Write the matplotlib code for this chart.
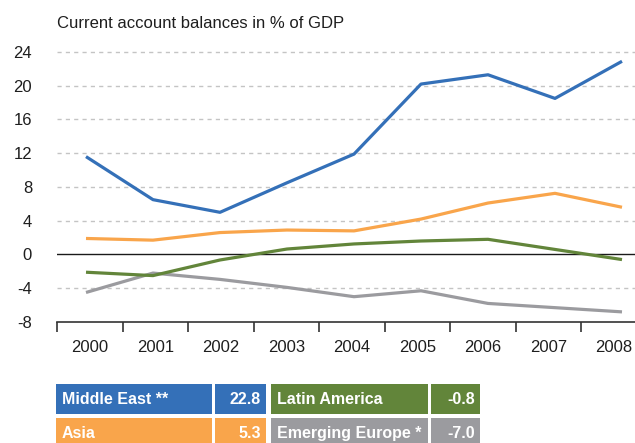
import numpy as np
import matplotlib
matplotlib.use("Agg")
import matplotlib.pyplot as plt
from matplotlib.patches import Rectangle

############################################
# DATA
############################################
years = ["2000", "2001", "2002", "2003", "2004", "2005", "2006", "2007", "2008"]

middle_east = [11.6, 6.5, 5.0, 8.5, 11.9, 20.2, 21.3, 18.5, 22.9]
asia = [1.9, 1.7, 2.6, 2.9, 2.8, 4.2, 6.1, 7.25, 5.6]
latin_america = [-2.1, -2.5, -0.65, 0.65, 1.25, 1.6, 1.8, 0.6, -0.6]
emerging_europe = [-4.5, -2.2, -2.95, -3.9, -5.0, -4.3, -5.8, -6.3, -6.8]

legend_names = ["Middle East **", "Asia", "Latin America", "Emerging Europe *"]
legend_values = ["22.8", "5.3", "-0.8", "-7.0"]

y_ticks = [-8, -4, 0, 4, 8, 12, 16, 20, 24]

BLUE = "#3470b8"
ORANGE = "#f9a54b"
GREEN = "#62853a"
GRAY = "#9b9b9f"

############################################
# FIGURE
############################################
W, H = 635, 443
fig = plt.figure(figsize=(W / 100, H / 100), dpi=100)
plt.rcParams["font.family"] = ["Liberation Sans", "DejaVu Sans"]

# axes in pixel geometry
ax_l, ax_r = 57, 635
ax_top, ax_bot = 52, 322
ax = fig.add_axes([ax_l / W, 1 - ax_bot / H, (ax_r - ax_l) / W, (ax_bot - ax_top) / H])

# data x: 2000 at px 86, 67 px per year; tick edges every 65.5 px from the left spine
px_per_year = 67.0
x0_px = 86.0
xlim_left = (ax_l - x0_px) / px_per_year
xlim_right = (ax_r - x0_px) / px_per_year
edges = [(ax_l + k * 65.5 - x0_px) / px_per_year for k in range(10)]
centers = [(edges[k] + edges[k + 1]) / 2 for k in range(9)]

x = np.arange(len(years))

for yv in y_ticks:
    if yv in (-8, 0):
        continue
    ax.axhline(yv, color="#c4c4c4", lw=1.0, ls=(0, (3, 3)), zorder=1, clip_on=False)
ax.axhline(0, color="#1a1a1a", lw=1.0, zorder=2)

ax.plot(x, emerging_europe, color=GRAY, lw=2.3, zorder=3, solid_capstyle="butt")
ax.plot(x, latin_america, color=GREEN, lw=2.3, zorder=4, solid_capstyle="butt")
ax.plot(x, asia, color=ORANGE, lw=2.3, zorder=5, solid_capstyle="butt")
ax.plot(x, middle_east, color=BLUE, lw=2.3, zorder=6, solid_capstyle="butt")

ax.set_xlim(xlim_left, xlim_right)
ax.set_ylim(-8, 24)

for s in ["left", "right", "top"]:
    ax.spines[s].set_visible(False)
ax.spines["bottom"].set_color("#333333")
ax.spines["bottom"].set_linewidth(1.2)

ax.set_yticks(y_ticks)
ax.set_yticklabels([str(v) for v in y_ticks], fontsize=12, color="#1e1e1e")
ax.tick_params(axis="y", length=0, pad=18)

ax.set_xticks([e for e in edges if e <= xlim_right])
ax.set_xticklabels([])
ax.tick_params(axis="x", which="major", length=7, width=1.2, color="#333333", direction="out")
ax.set_xticks(centers, minor=True)
ax.set_xticklabels(years, minor=True, fontsize=12, color="#1e1e1e")
ax.tick_params(axis="x", which="minor", length=0, pad=13)

fig.text(57 / W, 1 - 23 / H, "Current account balances in % of GDP",
         fontsize=12, color="#1e1e1e", va="center", ha="left")

############################################
# LEGEND BOXES
############################################
colors = [BLUE, ORANGE, GREEN, GRAY]
name_boxes = [(56, 212), (56, 212), (271, 428), (271, 428)]
value_boxes = [(215, 266), (215, 266), (431, 480), (431, 480)]
rows = [(384, 414), (418, 448), (384, 414), (418, 448)]

for i in range(4):
    y1, y2 = rows[i]
    for (bx1, bx2) in (name_boxes[i], value_boxes[i]):
        fig.patches.append(Rectangle((bx1 / W, 1 - y2 / H), (bx2 - bx1) / W, (y2 - y1) / H,
                                     transform=fig.transFigure, facecolor=colors[i],
                                     edgecolor="none"))
    yc = 1 - (y1 + 15.5) / H
    fig.text((name_boxes[i][0] + 6) / W, yc, legend_names[i], color="white",
             fontsize=11.5, fontweight="bold", va="center", ha="left")
    fig.text((value_boxes[i][1] - 5) / W, yc, legend_values[i], color="white",
             fontsize=11.5, fontweight="bold", va="center", ha="right")

fig.savefig("out.png", dpi=100)
plt.close(fig)
